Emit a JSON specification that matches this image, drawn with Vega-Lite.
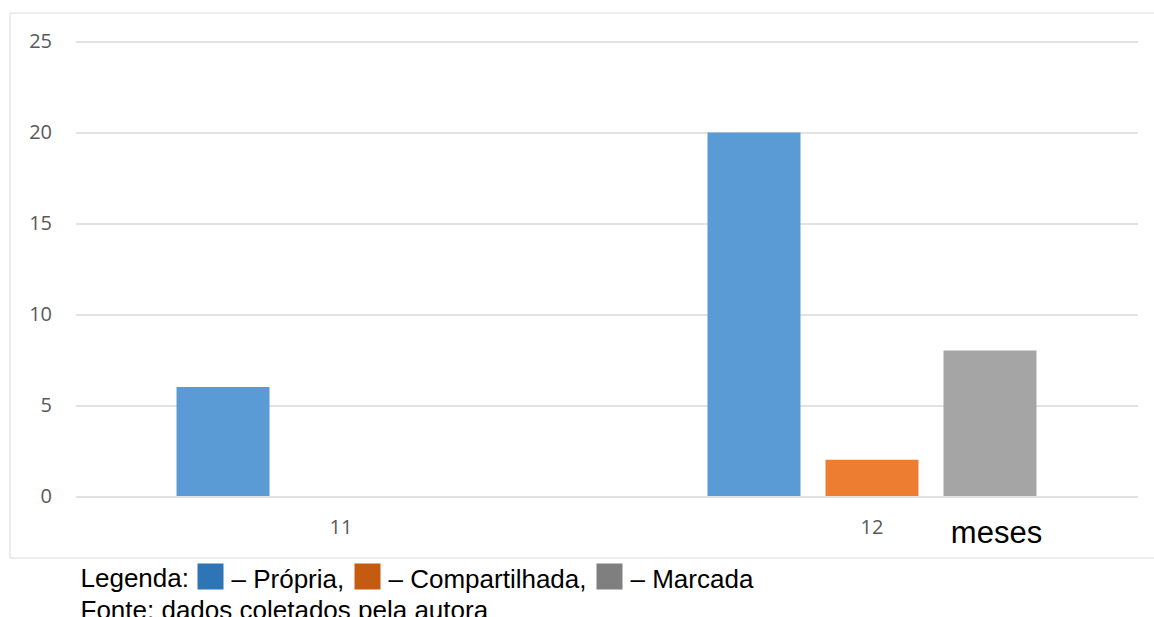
{
  "$schema": "https://vega.github.io/schema/vega-lite/v6.json",
  "width": 1150,
  "height": 545,
  "autosize": {"type": "none"},
  "padding": {"left": 9.5, "top": 12.5, "right": 0, "bottom": 60},
  "background": "white",
  "config": {"view": {"stroke": "#d9d9d9", "strokeWidth": 1}},
  "title": {
    "text": "Fonte: dados coletados pela autora",
    "orient": "bottom",
    "anchor": "start",
    "frame": "bounds",
    "dx": 71,
    "offset": 5,
    "font": "Liberation Sans",
    "fontSize": 26,
    "fontWeight": "normal",
    "color": "#000000"
  },
  "data": {
    "values": [
      {"mes": "11", "tipo": "Própria", "valor": 6},
      {"mes": "11", "tipo": "Compartilhada", "valor": 0},
      {"mes": "11", "tipo": "Marcada", "valor": 0},
      {"mes": "12", "tipo": "Própria", "valor": 20},
      {"mes": "12", "tipo": "Compartilhada", "valor": 2},
      {"mes": "12", "tipo": "Marcada", "valor": 8}
    ]
  },
  "encoding": {
    "x": {
      "field": "mes",
      "type": "nominal",
      "sort": ["11", "12"],
      "scale": {"range": [66, 1128], "paddingInner": 0.3333, "paddingOuter": 0.1667},
      "axis": {
        "orient": "bottom",
        "offset": -44,
        "domain": false,
        "ticks": false,
        "tickSize": 0,
        "grid": false,
        "labelPadding": 4,
        "labelAngle": 0,
        "labelFont": "Open Sans",
        "labelFontSize": 20,
        "labelColor": "#595959",
        "title": "meses",
        "titleFont": "Liberation Sans",
        "titleFontSize": 31,
        "titleFontWeight": "normal",
        "titleColor": "#000000",
        "titleX": 986.5,
        "titleY": 28.5,
        "titleAlign": "center",
        "titleBaseline": "alphabetic"
      }
    },
    "xOffset": {
      "field": "tipo",
      "type": "nominal",
      "sort": ["Própria", "Compartilhada", "Marcada"],
      "scale": {"paddingInner": 0.212, "paddingOuter": 0.106}
    }
  },
  "layer": [
    {
      "mark": {"type": "bar"},
      "encoding": {
        "y": {
          "datum": 0,
          "type": "quantitative",
          "scale": {"domain": [0, 25], "range": [483.5, 29.2], "nice": false},
          "axis": {
            "orient": "left",
            "offset": -50,
            "values": [0, 5, 10, 15, 20, 25],
            "domain": false,
            "ticks": false,
            "tickSize": 0,
            "labelPadding": 8,
            "labelFont": "Open Sans",
            "labelFontSize": 20,
            "labelColor": "#595959",
            "title": null,
            "grid": true,
            "gridColor": "#d9d9d9",
            "gridWidth": 1.5
          }
        },
        "fill": {
          "field": "tipo",
          "type": "nominal",
          "sort": ["Própria", "Compartilhada", "Marcada"],
          "scale": {"domain": ["Própria", "Compartilhada", "Marcada"], "range": ["#2E75B6", "#C55A11", "#7F7F7F"]},
          "legend": {
            "orient": "none",
            "legendX": 71,
            "legendY": 551,
            "direction": "horizontal",
            "padding": 0,
            "title": "Legenda:",
            "titleOrient": "left",
            "titleFont": "Liberation Sans",
            "titleFontSize": 26,
            "titleFontWeight": "normal",
            "titleColor": "#000000",
            "titlePadding": 8,
            "symbolType": "square",
            "symbolSize": 676,
            "symbolStrokeWidth": 0,
            "symbolOpacity": 1,
            "labelFont": "Liberation Sans",
            "labelFontSize": 26,
            "labelColor": "#000000",
            "labelOffset": 8,
            "labelLimit": 500,
            "columnPadding": 10,
            "labelExpr": "datum.label == 'Marcada' ? '– Marcada' : '– ' + datum.label + ','",
            "encode": {
              "labels": {"update": {"dy": {"value": 3}}}
            }
          }
        }
      }
    },
    {
      "mark": {"type": "bar"},
      "encoding": {
        "y": {
          "field": "valor",
          "type": "quantitative",
          "scale": {"domain": [0, 25], "range": [483.5, 29.2], "nice": false},
          "axis": {
            "orient": "left",
            "offset": -50,
            "values": [0, 5, 10, 15, 20, 25],
            "domain": false,
            "ticks": false,
            "tickSize": 0,
            "labelPadding": 8,
            "labelFont": "Open Sans",
            "labelFontSize": 20,
            "labelColor": "#595959",
            "title": null,
            "grid": true,
            "gridColor": "#d9d9d9",
            "gridWidth": 1.5
          }
        },
        "color": {
          "field": "tipo",
          "type": "nominal",
          "sort": ["Própria", "Compartilhada", "Marcada"],
          "scale": {"domain": ["Própria", "Compartilhada", "Marcada"], "range": ["#5B9BD5", "#ED7D31", "#A5A5A5"]},
          "legend": null
        }
      }
    }
  ]
}
